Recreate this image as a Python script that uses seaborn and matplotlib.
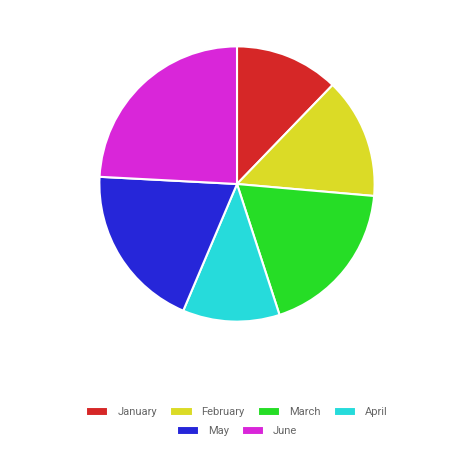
import matplotlib
matplotlib.use("Agg")
import matplotlib.pyplot as plt
import seaborn as sns

sns.set_theme(style="white")
plt.rcParams['font.family'] = ['Roboto', 'DejaVu Sans']

months = ["January", "February", "March", "April", "May", "June"]
values = [44, 51, 67, 41, 70, 87]
colors = ["#d62727", "#dbdb26", "#26dd26", "#26dbdb", "#2626d9", "#d926d9"]

fig = plt.figure(figsize=(4.74, 4.74), dpi=100)
ax = fig.add_axes([98/474, 151/474, 278/474, 278/474])
wedges, _ = ax.pie(values, colors=colors, startangle=90, counterclock=False,
                   wedgeprops=dict(edgecolor="white", linewidth=1.5))
ax.set_aspect("equal")
ax.set_xlim(-1.01, 1.01)
ax.set_ylim(-1.01, 1.01)

opts = dict(loc="center", frameon=False, fontsize=8, handlelength=2.0,
            handleheight=0.9, columnspacing=1.2, labelcolor="#666666")
fig.legend(wedges[:4], months[:4], bbox_to_anchor=(0.5, 1 - 412/474), ncol=4, **opts)
fig.legend(wedges[4:], months[4:], bbox_to_anchor=(0.5, 1 - 431/474), ncol=2, **opts)

fig.savefig("out.png", dpi=100)
